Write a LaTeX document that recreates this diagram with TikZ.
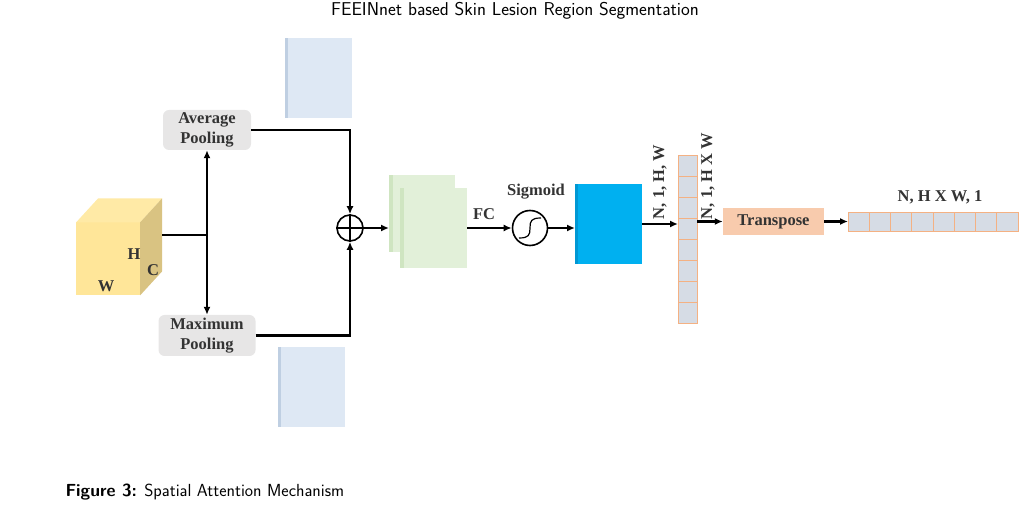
\documentclass[tikz,border=0pt]{standalone}
\usepackage{fontspec}
\setmainfont{Liberation Serif}
\usepackage{tikz}
\usetikzlibrary{positioning, arrows.meta, calc}
\definecolor{cubefront}{HTML}{FFE699}
\definecolor{cubetop}{HTML}{FFEAA6}
\definecolor{cubeside}{HTML}{D9C382}
\definecolor{poolgray}{HTML}{E7E6E6}
\definecolor{mapblue}{HTML}{DEE8F4}
\definecolor{mapedge}{HTML}{BFCFE2}
\definecolor{fcgreen}{HTML}{E2F0D9}
\definecolor{fcedge}{HTML}{CFE5C1}
\definecolor{attblue}{HTML}{00B0F0}
\definecolor{attedge}{HTML}{0098D4}
\definecolor{cellfill}{HTML}{D6DCE5}
\definecolor{cellline}{HTML}{F4B183}
\definecolor{transfill}{HTML}{F8CBAD}
\definecolor{labelgray}{HTML}{333333}
\tikzstyle{lbl}=[%
      text=labelgray, font=\bfseries\fontsize{16.5}{20}\selectfont, inner sep=1pt
]
\tikzstyle{pool}=[%
      lbl, rectangle, rounded corners=6pt, fill=poolgray, align=center
]
\tikzstyle{slab}=[%
      rectangle, inner sep=0pt, outer sep=0pt
]
\tikzstyle{cell}=[%
      rectangle, draw=cellline, line width=0.8pt, fill=cellfill, inner sep=0pt, outer sep=0pt
]
\tikzstyle{flow}=[%
      line width=2.2pt, -{Latex[length=8pt,width=7pt]}
]

\begin{document}
\begin{tikzpicture}[x=1pt, y=-1pt]
    \useasboundingbox (0,0) rectangle (1031,518);

    % page header and caption
    \node (header) at (515,11) {\sffamily\fontsize{18.6}{20}\selectfont FEEINnet based Skin Lesion Region Segmentation};
    \node[anchor=west] (caption) at (62,492) {\sffamily\fontsize{17.5}{20}\selectfont\textbf{Figure 3:} Spatial Attention Mechanism};

    % input cube
    \node[slab, fill=cubefront, minimum width=64, minimum height=73] (cube) at (108,259) {};
    \fill[cubetop] (cube.north west) -- ++(22,-24) -- ++(64,0) -- (cube.north east) -- cycle;
    \fill[cubeside] (cube.north east) -- ++(22,-24) -- ++(0,73) -- (cube.south east) -- cycle;
    \node[lbl] (H) at (134,254) {H};
    \node[lbl] (C) at (153,270) {C};
    \node[lbl] (W) at (106,286) {W};
    \coordinate (cubeR) at (162,235);
    \coordinate (split) at (207,235);

    % pooling
    \node[pool, minimum width=88, minimum height=40] (avg) at (207,130) {Average\\Pooling};
    \node[pool, minimum width=97, minimum height=41] (max) at (207,335.5) {Maximum\\Pooling};

    \node[slab, fill=mapblue, minimum width=67, minimum height=80] (avgmap) at (318.5,78) {};
    \fill[mapedge] (avgmap.north west) rectangle ++(3,80);
    \node[slab, fill=mapblue, minimum width=67, minimum height=80] (maxmap) at (311.5,387) {};
    \fill[mapedge] (maxmap.north west) rectangle ++(3,80);

    % merge
    \node[circle, draw, line width=1.6pt, minimum size=26, inner sep=0pt] (oplus) at (350,228) {};
    \draw[line width=1.6pt] (oplus.north) -- (oplus.south) (oplus.west) -- (oplus.east);

    \node[slab, fill=fcgreen, minimum width=66, minimum height=77] (fcback) at (422,213.5) {};
    \fill[fcedge] (fcback.north west) rectangle ++(4,77);
    \node[slab, fill=fcgreen, minimum width=67, minimum height=80] (fcfront) at (433.5,228) {};
    \fill[fcedge] (fcfront.north west) rectangle ++(4,80);
    \node[lbl] (fc) at (484,214) {FC};

    % sigmoid
    \node[circle, draw, line width=1.6pt, minimum size=35, inner sep=0pt] (sig) at (530,228) {};
    \draw[line width=1.2pt] ([shift={(-11,10)}]sig.center) .. controls ([shift={(-1,10)}]sig.center) and ([shift={(0,7)}]sig.center) .. (sig.center)
          .. controls ([shift={(0,-7)}]sig.center) and ([shift={(1,-10)}]sig.center) .. ([shift={(11,-10)}]sig.center);
    \node[lbl] (siglbl) at (536,192) {Sigmoid};

    \node[slab, fill=attblue, minimum width=67, minimum height=80] (attmap) at (608.5,224) {};
    \fill[attedge] (attmap.north west) rectangle ++(3,80);

    % reshape
    \foreach \i in {1,...,8}
        \node[cell, minimum width=19, minimum height=21] (col\i) at (687.5,{155+21*(\i-0.5)}) {};
    \node[lbl, rotate=90] (shape1) at (660,182) {N, 1, H, W};
    \node[lbl, rotate=90] (shape2) at (708,176) {N, 1, H X W};

    \node[lbl, rectangle, fill=transfill, minimum width=101, minimum height=27] (trans) at (773.5,221.5) {Transpose};

    \foreach \i in {1,...,8}
        \node[cell, minimum width=21.25, minimum height=19] (row\i) at ({848+21.25*(\i-0.5)},221.5) {};
    \node[lbl] (shape3) at (940,197) {N, H X W, 1};

    % connectors
    \draw[line width=2.2pt] (cubeR) -- (split);
    \draw[flow] (split) -- (avg.south);
    \draw[flow] (split) -- (max.north);
    \draw[flow] (avg.east) -| (oplus.north);
    \draw[flow] (max.east) -| (oplus.south);
    \draw[flow] (oplus.east) -- (oplus.east -| fcback.west);
    \draw[flow] (fcfront.east) -- (sig.west);
    \draw[flow] (sig.east) -- (sig.east -| attmap.west);
    \draw[flow] (attmap.east) -- (attmap.east -| col4.west);
    \draw[flow] (trans.west -| col4.east) -- (trans.west);
    \draw[flow] (trans.east) -- (row1.west);
\end{tikzpicture}
\end{document}
